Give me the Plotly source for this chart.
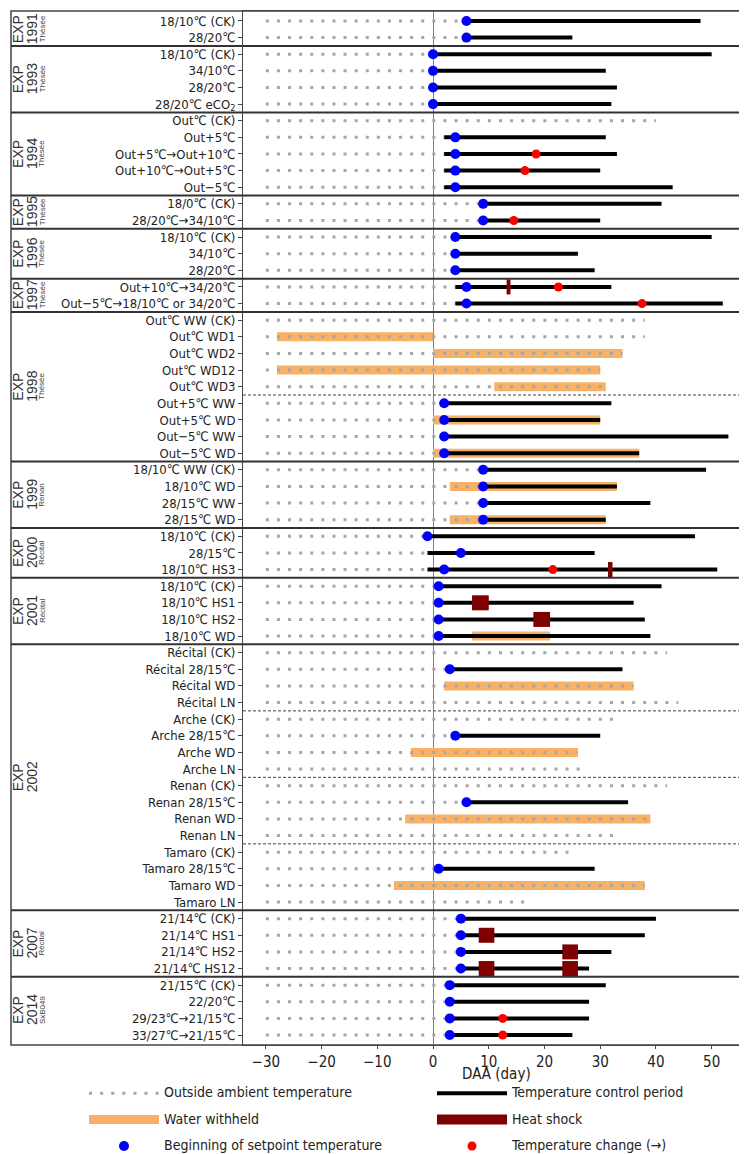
import plotly.graph_objects as go

# row labels, top to bottom
labels = [
    "18/10℃ (CK)", "28/20℃",
    "18/10℃ (CK)", "34/10℃", "28/20℃", "28/20℃ eCO<sub>2</sub>",
    "Out℃ (CK)", "Out+5℃", "Out+5℃→Out+10℃", "Out+10℃→Out+5℃", "Out−5℃",
    "18/0℃ (CK)", "28/20℃→34/10℃",
    "18/10℃ (CK)", "34/10℃", "28/20℃",
    "Out+10℃→34/20℃", "Out−5℃→18/10℃ or 34/20℃",
    "Out℃ WW (CK)", "Out℃ WD1", "Out℃ WD2", "Out℃ WD12", "Out℃ WD3",
    "Out+5℃ WW", "Out+5℃ WD", "Out−5℃ WW", "Out−5℃ WD",
    "18/10℃ WW (CK)", "18/10℃ WD", "28/15℃ WW", "28/15℃ WD",
    "18/10℃ (CK)", "28/15℃", "18/10℃ HS3",
    "18/10℃ (CK)", "18/10℃ HS1", "18/10℃ HS2", "18/10℃ WD",
    "Récital (CK)", "Récital 28/15℃", "Récital WD", "Récital LN",
    "Arche (CK)", "Arche 28/15℃", "Arche WD", "Arche LN",
    "Renan (CK)", "Renan 28/15℃", "Renan WD", "Renan LN",
    "Tamaro (CK)", "Tamaro 28/15℃", "Tamaro WD", "Tamaro LN",
    "21/14℃ (CK)", "21/14℃ HS1", "21/14℃ HS2", "21/14℃ HS12",
    "21/15℃ (CK)", "22/20℃", "29/23℃→21/15℃", "33/27℃→21/15℃",
]

group_years = ["1991", "1993", "1994", "1995", "1996", "1997", "1998",
               "1999", "2000", "2001", "2002", "2007", "2014"]
group_cultivars = ["Thésée", "Thésée", "Thésée", "Thésée", "Thésée", "Thésée",
                   "Thésée", "Renan", "Récital", "Récital", "", "Récital", "SxB049"]
group_sizes = [2, 4, 5, 2, 3, 2, 9, 4, 3, 4, 16, 4, 4]
dashed_after = [22, 41, 45, 49]   # dotted sub-group separators (row index)

# outside ambient temperature (dotted) starts at -30 DAA
ambient_start = -30
ambient_end = [6, 6,
               0, 0, 0, 0,
               40, 2, 2, 2, 2,
               9, 9,
               4, 4, 4,
               4, 4,
               38, 38, 34, 30, 31, 2, 2, 2, 2,
               9, 9, 9, 9,
               -1, -1, -1,
               1, 1, 1, 1,
               42, 3, 36, 44, 33, 4, 26, 27, 42, 6, 39, 33, 25, 1, 38, 17,
               5, 5, 5, 5,
               3, 3, 3, 3]

# temperature control period
control_start = [6, 6,
                 0, 0, 0, 0,
                 None, 2, 2, 2, 2,
                 9, 9,
                 4, 4, 4,
                 4, 4,
                 None, None, None, None, None, 2, 2, 2, 2,
                 9, 9, 9, 9,
                 -1, -1, -1,
                 1, 1, 1, 1,
                 None, 3, None, None, None, 4, None, None,
                 None, 6, None, None, None, 1, None, None,
                 5, 5, 5, 5,
                 3, 3, 3, 3]
control_end = [48, 25,
               50, 31, 33, 32,
               None, 31, 33, 30, 43,
               41, 30,
               50, 26, 29,
               32, 52,
               None, None, None, None, None, 32, 30, 53, 37,
               49, 33, 39, 31,
               47, 29, 51,
               41, 36, 38, 39,
               None, 34, None, None, None, 30, None, None,
               None, 35, None, None, None, 29, None, None,
               40, 38, 32, 28,
               31, 28, 28, 25]

# beginning of setpoint temperature (blue) and temperature change (red)
setpoint_day = [6, 6,
                0, 0, 0, 0,
                None, 4, 4, 4, 4,
                9, 9,
                4, 4, 4,
                6, 6,
                None, None, None, None, None, 2, 2, 2, 2,
                9, 9, 9, 9,
                -1, 5, 2,
                1, 1, 1, 1,
                None, 3, None, None, None, 4, None, None,
                None, 6, None, None, None, 1, None, None,
                5, 5, 5, 5,
                3, 3, 3, 3]
change_row = [8, 9, 12, 16, 17, 33, 60, 61]
change_day = [18.5, 16.5, 14.5, 22.5, 37.5, 21.5, 12.5, 12.5]

# water withheld
water_row = [19, 20, 21, 22, 24, 26, 28, 30, 37, 40, 44, 48, 52]
water_start = [-28, 0, -28, 11, 0, 0, 3, 3, 7, 2, -4, -5, -7]
water_end = [0, 34, 30, 31, 30, 37, 33, 31, 21, 36, 26, 39, 38]

# heat shock
heat_row = [16, 33, 35, 36, 55, 56, 57, 57]
heat_start = [13.2, 31.4, 7, 18, 8.2, 23.2, 8.2, 23.2]
heat_end = [13.9, 32.2, 10, 21, 11, 26, 11, 26]

FONT = "Liberation Sans Narrow, DejaVu Sans Condensed, Liberation Sans, Arial, sans-serif"
rows = list(range(len(labels)))


def segments(ys, x0s, x1s):
    xs, yy = [], []
    for y, a, b in zip(ys, x0s, x1s):
        if a is None or b is None:
            continue
        xs += [a, b, None]
        yy += [y, y, None]
    return xs, yy


def legend_name(s):
    # small glyphs inside a taller legend row
    return '<span style="font-size:14px;baseline-shift:3px">' + s + '</span>'


fig = go.Figure()

wx, wy = segments(water_row, water_start, water_end)
fig.add_trace(go.Scatter(x=wx, y=wy, mode="lines", name=legend_name("Water withheld"),
                         line=dict(color="#F7B267", width=9), legendrank=3,
                         hoverinfo="skip"))

ax, ay = segments(rows, [ambient_start] * len(rows), ambient_end)
fig.add_trace(go.Scatter(x=ax, y=ay, mode="lines",
                         name=legend_name("Outside ambient temperature"),
                         line=dict(color="#A6A6A6", width=3, dash="3px,8.1px"),
                         legendrank=1, hoverinfo="skip"))

cx, cy = segments(rows, control_start, control_end)
fig.add_trace(go.Scatter(x=cx, y=cy, mode="lines",
                         name=legend_name("Temperature control period"),
                         line=dict(color="black", width=4), legendrank=2,
                         hoverinfo="skip"))

hx, hy = segments(heat_row, heat_start, heat_end)
fig.add_trace(go.Scatter(x=hx, y=hy, mode="lines", name=legend_name("Heat shock"),
                         line=dict(color="#7F0000", width=15), legendrank=4,
                         hoverinfo="skip"))

fig.add_trace(go.Scatter(x=setpoint_day, y=rows, mode="markers",
                         name=legend_name("Beginning of setpoint temperature"),
                         marker=dict(color="#0000FF", size=10), legendrank=5))

fig.add_trace(go.Scatter(x=change_day, y=change_row, mode="markers",
                         name=legend_name("Temperature change (→)"),
                         marker=dict(color="#FF0000", size=9), legendrank=6))

# frame, group separators, labels
L, W = 235, 506
left_edge = (3 - L) / W
shapes = [dict(type="rect", xref="paper", yref="paper", x0=left_edge, x1=1, y0=0, y1=1,
               line=dict(color="#444", width=1.5))]
annotations = []
GFONT = "Liberation Sans, Arial, sans-serif"
start = 0
for year, cult, n in zip(group_years, group_cultivars, group_sizes):
    end = start + n
    mid = (start + end - 1) / 2
    if end < len(labels):
        shapes.append(dict(type="line", xref="paper", yref="y", x0=left_edge, x1=1,
                           y0=end - 0.5, y1=end - 0.5, line=dict(color="#333", width=2)))
    annotations.append(dict(text="EXP", x=(10 - L) / W, y=mid, xref="paper", yref="y",
                            xanchor="center", yanchor="middle", textangle=-90,
                            showarrow=False, font=dict(size=14, color="#333", family=GFONT)))
    annotations.append(dict(text=year, x=(24 - L) / W, y=mid, xref="paper", yref="y",
                            xanchor="center", yanchor="middle", textangle=-90,
                            showarrow=False, font=dict(size=14, color="#333", family=GFONT)))
    if cult:
        annotations.append(dict(text=cult, x=(34 - L) / W, y=mid, xref="paper", yref="y",
                                xanchor="center", yanchor="middle", textangle=-90,
                                showarrow=False, font=dict(size=8, color="#444", family=GFONT)))
    start = end

for r in dashed_after:
    shapes.append(dict(type="line", xref="paper", yref="y", x0=0, x1=1,
                       y0=r + 0.5, y1=r + 0.5, line=dict(color="#444", width=1, dash="3px,2px")))

# x-axis title placed just under the tick labels
annotations.append(dict(text="DAA (day)", x=0.5, y=-(1066 - 1037) / 1034, xref="paper",
                        yref="paper", xanchor="center", yanchor="middle", showarrow=False,
                        font=dict(size=15, family=FONT, color="#222")))

fig.update_layout(
    width=747, height=1154,
    margin=dict(l=L, r=6, t=3, b=117, autoexpand=False),
    plot_bgcolor="white", paper_bgcolor="white",
    font=dict(family=FONT, color="#222"),
    shapes=shapes, annotations=annotations,
    legend=dict(orientation="h", x=(76 - L) / W, y=-0.029, xanchor="left", yanchor="top",
                entrywidth=263, entrywidthmode="pixels", itemwidth=70,
                font=dict(size=18, family=FONT), traceorder="normal"),
)
fig.update_xaxes(range=[-34.1, 56.7], tickvals=[-30, -20, -10, 0, 10, 20, 30, 40, 50],
                 ticks="outside", ticklen=3, tickcolor="#444",
                 tickfont=dict(size=15, family=FONT), showgrid=False,
                 zeroline=True, zerolinecolor="#808080", zerolinewidth=1,
                 showline=True, linecolor="#444", mirror=True)
fig.update_yaxes(range=[61.6, -0.6], tickvals=rows, ticktext=labels,
                 ticks="outside", ticklen=4, tickcolor="#444",
                 tickfont=dict(size=13, family=FONT, color="#222"), showgrid=False,
                 zeroline=False, showline=True, linecolor="#444", mirror=True)

fig.write_html("out.html")
